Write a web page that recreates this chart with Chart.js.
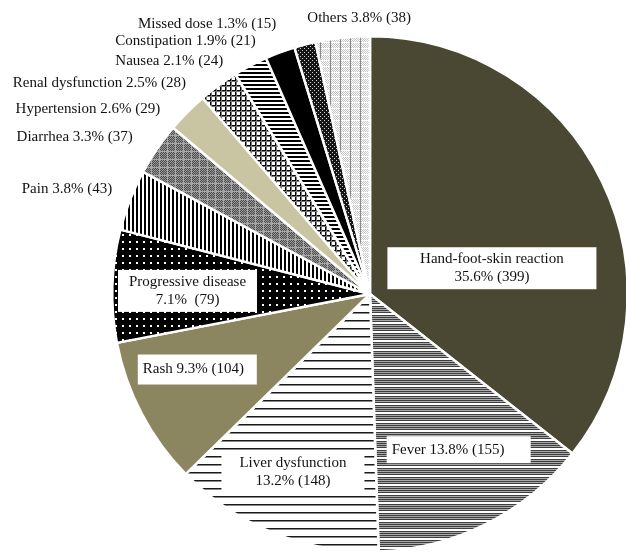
<!DOCTYPE html>
<html>
<head>
<meta charset="utf-8">
<script src="https://cdn.jsdelivr.net/npm/chart.js@4.4.1/dist/chart.umd.min.js"></script>
<style>
  html, body { margin: 0; padding: 0; background: #fff; overflow: hidden; }
  #wrap { position: absolute; left: 0; top: 0; width: 640px; height: 560px; }
</style>
</head>
<body>
<div id="wrap"><canvas id="pieChart"></canvas></div>
<script>
// Adverse events leading to discontinuation (clockwise from 12 o'clock)
const categories = [
    'Hand-foot-skin reaction', 'Fever', 'Liver dysfunction', 'Rash',
    'Progressive disease', 'Pain', 'Diarrhea', 'Hypertension',
    'Renal dysfunction', 'Nausea', 'Constipation', 'Missed dose', 'Others'
];
const counts   = [399, 155, 148, 104, 79, 43, 37, 29, 28, 24, 21, 15, 38];
const percents = ['35.6', '13.8', '13.2', '9.3', '7.1', '3.8', '3.3', '2.6', '2.5', '2.1', '1.9', '1.3', '3.8'];

// where each label goes, in units of the pie radius from its centre
// box: white box centred there; otherwise plain text starting there
const labelLayout = [
    { at: [0.473, -0.100], box: [209, 42], lines: 2 },
    { at: [0.344, 0.604], box: [144, 27], lines: 1, left: true },
    { at: [-0.299, 0.691], box: [143, 40], lines: 2 },
    { at: [-0.670, 0.293], box: [119, 30], lines: 1, left: true },
    { at: [-0.708, -0.012], box: [139, 42], lines: 2, gap: true },
    { at: [-1.351, -0.409] },
    { at: [-1.371, -0.610] },
    { at: [-1.375, -0.718] },
    { at: [-1.386, -0.819] },
    { at: [-0.988, -0.903] },
    { at: [-0.988, -0.981] },
    { at: [-0.900, -1.046] },
    { at: [-0.243, -1.069] }
];

const canvas = document.getElementById('pieChart');
const ctx = canvas.getContext('2d');

// small tiles for the black and white hatchings
function makePattern(w, h, draw) {
    const c = document.createElement('canvas');
    c.width = w;
    c.height = h;
    const p = c.getContext('2d');
    p.fillStyle = '#fff';
    p.fillRect(0, 0, w, h);
    draw(p, w, h);
    return ctx.createPattern(c, 'repeat');
}

const fills = [
    '#4a4733',
    makePattern(1, 9, (p) => {
        p.fillStyle = '#3e3e3e';
        [0, 2, 4, 6].forEach(y => p.fillRect(0, y, 1, 1));
        p.fillStyle = '#aaa';
        [1, 3, 5].forEach(y => p.fillRect(0, y, 1, 1));
    }),
    makePattern(1, 8, (p) => {
        p.fillStyle = '#1a1a1a';
        p.fillRect(0, 0, 1, 1);
        p.fillStyle = '#888';
        p.fillRect(0, 1, 1, 1);
    }),
    '#8c8660',
    makePattern(7, 7, (p) => {
        p.fillStyle = '#000';
        p.fillRect(0, 0, 7, 7);
        p.fillStyle = '#fff';
        p.fillRect(3, 3, 2, 2);
    }),
    makePattern(4, 1, (p) => {
        p.fillStyle = '#000';
        p.fillRect(0, 0, 2, 1);
    }),
    makePattern(8, 8, (p) => {
        for (let x = 0; x < 8; x++) {
            for (let y = 0; y < 8; y++) {
                p.fillStyle = (x === 7 || y === 7) ? '#a8a8a8' : ((x + y) % 2 ? '#4a4a4a' : '#9a9a9a');
                p.fillRect(x, y, 1, 1);
            }
        }
    }),
    '#c9c5a2',
    makePattern(5, 5, (p) => {
        p.fillStyle = '#000';
        p.fillRect(0, 0, 5, 1);
        p.fillRect(0, 0, 1, 5);
        p.fillStyle = '#777';
        p.fillRect(0, 1, 5, 1);
        p.fillRect(1, 0, 1, 5);
    }),
    makePattern(1, 4, (p) => {
        p.fillStyle = '#000';
        p.fillRect(0, 0, 1, 2);
    }),
    '#000',
    makePattern(4, 4, (p) => {
        p.fillStyle = '#151515';
        p.fillRect(0, 0, 4, 4);
        p.fillStyle = '#d0d0d0';
        p.fillRect(0, 0, 1, 1);
        p.fillRect(2, 2, 1, 1);
    }),
    makePattern(10, 6, (p) => {
        for (let x = 0; x < 10; x++) {
            for (let y = 1; y < 6; y++) {
                if ((x + y) % 2 === 0) {
                    p.fillStyle = '#c4c4c4';
                    p.fillRect(x, y, 1, 1);
                }
            }
        }
        p.fillStyle = '#8a8a8a';
        p.fillRect(0, 0, 1, 6);
    })
];

// draw the labels from the arc geometry
const pieLabels = {
    id: 'pieLabels',
    afterDatasetsDraw(chart) {
        const arc = chart.getDatasetMeta(0).data[0];
        const cx = arc.x, cy = arc.y, R = arc.outerRadius;
        const c = chart.ctx;
        c.save();
        c.font = '15px "Liberation Serif", "Times New Roman", serif';
        c.fillStyle = '#111';
        c.textBaseline = 'middle';
        categories.forEach((name, i) => {
            const lay = labelLayout[i];
            const x = cx + lay.at[0] * R;
            const y = cy + lay.at[1] * R;
            const tail = percents[i] + '%' + (lay.gap ? '  ' : ' ') + '(' + counts[i] + ')';
            if (lay.box) {
                const [w, h] = lay.box;
                c.fillStyle = '#fff';
                c.fillRect(x - w / 2, y - h / 2, w, h);
                c.fillStyle = '#111';
                if (lay.lines === 2) {
                    c.textAlign = 'center';
                    c.fillText(name, x, y - 9);
                    c.fillText(tail, x, y + 9);
                } else {
                    c.textAlign = 'left';
                    c.fillText(name + ' ' + tail, x - w / 2 + 5, y);
                }
            } else {
                c.textAlign = 'left';
                c.fillText(name + ' ' + tail, x, y);
            }
        });
        c.restore();
    }
};

new Chart(ctx, {
    type: 'pie',
    data: {
        labels: categories,
        datasets: [{
            data: counts,
            backgroundColor: fills,
            borderColor: '#fff',
            borderWidth: 2.5
        }]
    },
    options: {
        responsive: true,
        maintainAspectRatio: false,
        animation: false,
        layout: {
            padding: { left: 111, top: 34, right: 11, bottom: 6 }
        },
        plugins: {
            legend: { display: false },
            tooltip: { enabled: false }
        }
    },
    plugins: [pieLabels]
});
</script>
</body>
</html>
